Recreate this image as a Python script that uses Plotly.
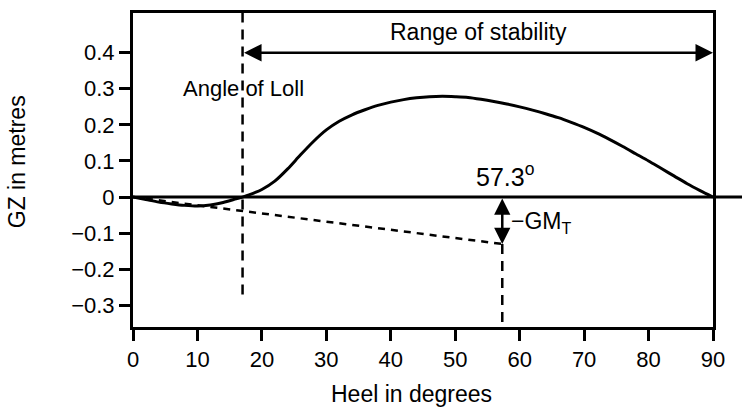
import plotly.graph_objects as go

# ---- data ----
heel_deg = [0, 2, 4, 6, 8, 10, 12, 14, 16, 17, 18, 20, 22, 24, 26, 28, 30, 32, 34, 36, 38,
            40, 42, 44, 46, 48, 50, 52, 54, 56, 58, 60, 62, 64, 66, 68, 70, 72, 74, 76,
            78, 80, 82, 84, 86, 88, 90]
gz_m = [0, -0.007, -0.014, -0.019, -0.023, -0.025, -0.022, -0.015, -0.005, 0, 0.006, 0.021,
        0.044, 0.078, 0.117, 0.154, 0.186, 0.21, 0.228, 0.242, 0.254, 0.263, 0.27, 0.275,
        0.278, 0.279, 0.278, 0.276, 0.271, 0.265, 0.258, 0.25, 0.241, 0.231, 0.22, 0.207,
        0.193, 0.177, 0.159, 0.14, 0.12, 0.1, 0.079, 0.058, 0.037, 0.018, 0]

loll_angle = 17
loll_line_y = [-0.27, 0.51]
range_end = 90
range_y = 0.4
radian_angle = 57.3
minus_gm = -0.13
gm_line_x = [0, radian_angle]
gm_line_y = [0, minus_gm]
radian_line_y = [minus_gm, -0.36]

x_ticks = [0, 10, 20, 30, 40, 50, 60, 70, 80, 90]
y_ticks = [-0.3, -0.2, -0.1, 0, 0.1, 0.2, 0.3, 0.4]
y_ticktext = ["\u22120.3", "\u22120.2", "\u22120.1", "0", "0.1", "0.2", "0.3", "0.4"]

FONT = "Liberation Sans, Arial, sans-serif"

fig = go.Figure()

# GZ curve
fig.add_trace(go.Scatter(x=heel_deg, y=gz_m, mode="lines",
                         line=dict(color="black", width=3, shape="spline", smoothing=0.8),
                         showlegend=False, hoverinfo="skip"))
# tangent (GM) dashed line
fig.add_trace(go.Scatter(x=gm_line_x, y=gm_line_y, mode="lines",
                         line=dict(color="black", width=2.5, dash="7px,6px"),
                         showlegend=False, hoverinfo="skip"))
# angle of loll vertical dashed
fig.add_trace(go.Scatter(x=[loll_angle, loll_angle], y=loll_line_y, mode="lines",
                         line=dict(color="black", width=2.5, dash="10px,7px"),
                         showlegend=False, hoverinfo="skip"))
# 57.3 vertical dashed
fig.add_trace(go.Scatter(x=[radian_angle, radian_angle], y=radian_line_y, mode="lines",
                         line=dict(color="black", width=2.5, dash="10px,7px"),
                         showlegend=False, hoverinfo="skip"))

# zero line extending beyond the frame on the right
fig.add_shape(type="line", xref="paper", yref="y", x0=0, x1=1.08, y0=0, y1=0,
              line=dict(color="black", width=3), layer="above")

# Range of stability arrow
fig.add_annotation(x=range_end, y=range_y, ax=loll_angle, ay=range_y, xref="x", yref="y",
                   axref="x", ayref="y", text="", showarrow=True, arrowside="end+start",
                   arrowhead=2, startarrowhead=2, arrowwidth=2.5, arrowsize=1.4,
                   startarrowsize=1.4, arrowcolor="black")
# -GM arrow
fig.add_annotation(x=radian_angle, y=minus_gm, ax=radian_angle, ay=0, xref="x", yref="y",
                   axref="x", ayref="y", text="", showarrow=True, arrowside="end+start",
                   arrowhead=2, startarrowhead=2, arrowwidth=2.5, arrowsize=1.3,
                   startarrowsize=1.3, arrowcolor="black")

fig.add_annotation(x=53.6, y=0.457, xref="x", yref="y", text="Range of stability",
                   showarrow=False, font=dict(family=FONT, size=23, color="black"),
                   xanchor="center", yanchor="middle")
fig.add_annotation(x=7.5, y=0.302, xref="x", yref="y", text="Angle of Loll",
                   showarrow=False, font=dict(family=FONT, size=22, color="black"),
                   xanchor="left", yanchor="middle")
fig.add_annotation(x=57.7, y=0.012, xref="x", yref="y", text="57.3<sup>o</sup>",
                   showarrow=False, font=dict(family=FONT, size=25, color="black"),
                   xanchor="center", yanchor="bottom")
fig.add_annotation(x=58.3, y=-0.07, xref="x", yref="y", text="\u2212GM<sub>T</sub>",
                   showarrow=False, font=dict(family=FONT, size=23, color="black"),
                   xanchor="left", yanchor="middle")

# axis titles
fig.add_annotation(x=0.481, y=-0.212, xref="paper", yref="paper", text="Heel in degrees",
                   showarrow=False, font=dict(family=FONT, size=23, color="black"),
                   xanchor="center", yanchor="middle")
fig.add_annotation(x=-0.201, y=0.526, xref="paper", yref="paper", text="GZ in metres",
                   showarrow=False, textangle=-90,
                   font=dict(family=FONT, size=23, color="black"),
                   xanchor="center", yanchor="middle")

fig.update_xaxes(range=[0, 90], tickvals=x_ticks, ticks="outside", ticklen=11, tickwidth=2.5,
                 tickcolor="black", showline=True, linewidth=3, linecolor="black",
                 mirror=True, showgrid=False, zeroline=False,
                 tickfont=dict(family=FONT, size=22, color="black"))
fig.update_yaxes(range=[-0.36, 0.51], tickvals=y_ticks, ticktext=y_ticktext, ticks="outside",
                 ticklen=11, tickwidth=2.5, tickcolor="black", showline=True, linewidth=3,
                 linecolor="black", mirror=True, showgrid=False, zeroline=False,
                 tickfont=dict(family=FONT, size=22, color="black"))

fig.update_layout(width=742, height=407, margin=dict(l=133, r=29, t=10, b=80),
                  paper_bgcolor="white", plot_bgcolor="white", showlegend=False)

# remove the default page margin so the figure fills the window exactly
fig.write_html("out.html",
               config={"displayModeBar": False},
               post_script="document.body.style.margin='0px';"
                           "document.body.style.overflow='hidden';")
